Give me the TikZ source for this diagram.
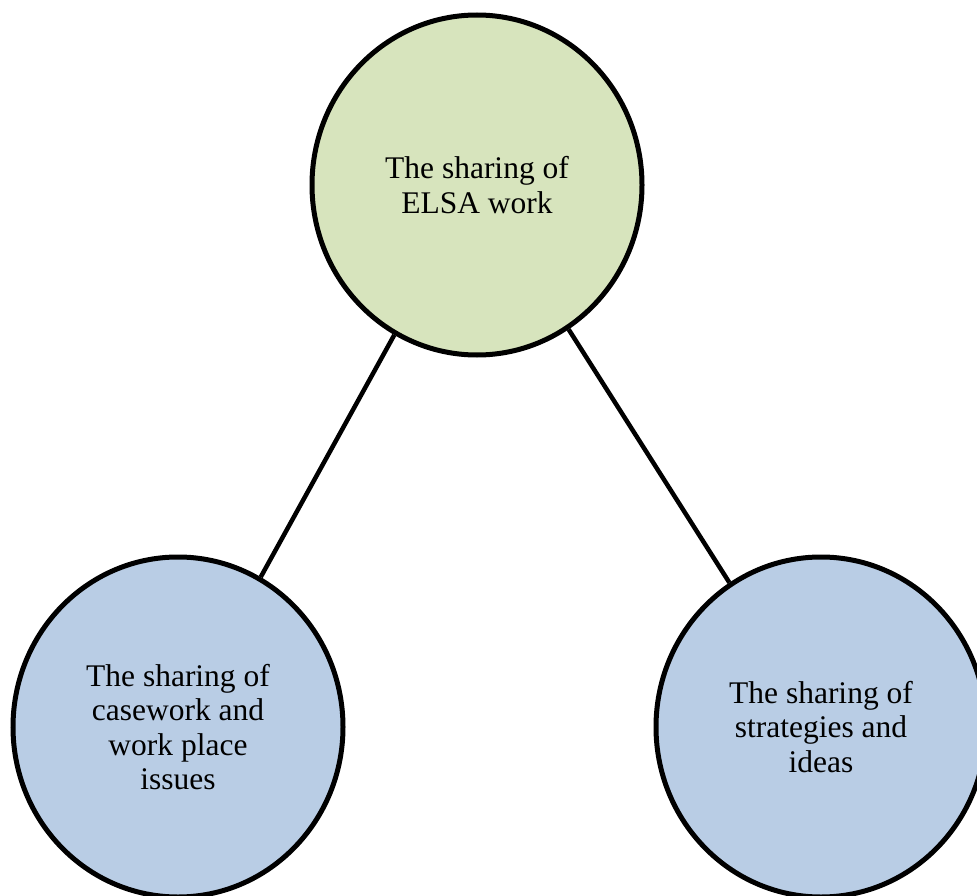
\documentclass[tikz,border=0pt]{standalone}
\usepackage{fontspec}
\setmainfont{Liberation Serif}
\usetikzlibrary{shapes.geometric}
\definecolor{topfill}{HTML}{D7E4BD}
\definecolor{subfill}{HTML}{B9CDE5}
\tikzset{
  bubble/.style={ellipse, draw=black, line width=5pt, minimum width=330pt,
    minimum height=340pt, inner sep=0pt, align=center,
    font=\fontsize{31.5}{34.5}\selectfont},
  link/.style={line width=4.5pt, draw=black}
}
\begin{document}
\begin{tikzpicture}[x=1pt,y=-1pt]
  \useasboundingbox (0,0) rectangle (977,896);
  \clip (0,0) rectangle (977,896);
  \node[bubble, fill=topfill] (elsa) at (477,185) {The sharing of\\ELSA work};
  \node[bubble, fill=subfill] (casework) at (178,727) {The sharing of\\casework and\\work place\\issues};
  \node[bubble, fill=subfill] (strategies) at (821,727) {The sharing of\\strategies and\\ideas};
  \draw[link] (elsa) -- (casework);
  \draw[link] (elsa) -- (strategies);
\end{tikzpicture}
\end{document}
